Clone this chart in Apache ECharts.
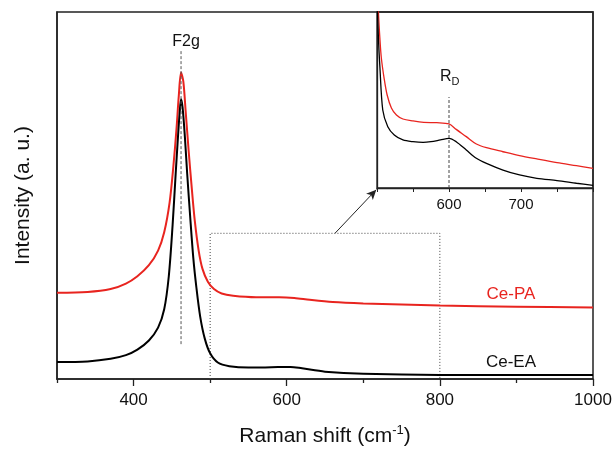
<!DOCTYPE html>
<html><head><meta charset="utf-8">
<script src="https://cdn.jsdelivr.net/npm/echarts@6/dist/echarts.min.js"></script>
<style>html,body{margin:0;padding:0;background:#fff}#c{width:616px;height:452px}</style>
</head><body><div id="c"></div>
<script>
// Main panel: Raman shift (cm-1) and intensities (arbitrary units, 0-100 axis)
const mainShift = [300,340,370,390,405,420,432,440,447,452,456,459,462,465,468,472,476,480,485,490,497,505,515,530,560,590,610,630,660,700,750,800,900,1000];
const cePAMain  = [23.5,23.7,24.5,26,28,31,35,40,48,58,68,77,83.5,81,73,62,52,43,35,30,26.5,24.5,23.3,22.7,22.3,22.3,22.1,21.6,21,20.6,20.3,20,19.7,19.5];
const shiftEA   = [300,340,370,390,405,420,432,440,446,451,455,458,460,462,464,467,470,474,478,482,487,493,500,510,525,550,580,605,620,650,700,800,1000];
const ceEAMain  = [4.6,4.8,5.5,6.5,8,10.5,14,19,28,42,56,66,72,76.2,74,66,56,44,33,25,17,11,7,4.5,3.5,3.1,3.2,3.3,2.9,2,1.4,1.1,1.1];
// Inset panel (500-800 cm-1), rescaled intensities (0-100 axis)
const insetShiftPA = [500,502,504,506,510,514,520,527,536,550,565,583,600,610,624,638,652,675,698,722,750,777,800];
const insetPA      = [125,100,85,74,62,53,45.5,41.5,39.2,38.1,37.3,37.1,36.4,33.3,29.2,25,22.9,20.6,18.4,16.5,14.4,12.7,11.2];
const insetShiftEA = [500,502,504,508,515,524,536,550,564,575,588,600,610,624,638,652,675,698,722,750,777,800];
const insetEA      = [110,85,68.9,44.3,34.8,30.1,27.3,26.3,25.9,26.3,27.3,28.2,26.3,21.6,16.9,14.0,10.2,7.4,5.5,4.2,2.7,1.5];
// Ticks
const mainMajorTicks = [400,600,800,1000];
const mainMinorTicks = [300,500,700,900];
const insetLabels = [600,700];
// Annotations
const f2gShift = 462;
const rdShift = 600;
const zoomBox = [[500,0],[500,39.7],[800,39.7],[800,0]];

const pairs = (xs, ys) => xs.map((x,i)=>[x, ys[i]]);
const RED = '#e8241f';
const AX = '#222';
const FONT = '"Liberation Sans", Arial, sans-serif';
const plain = v => String(v);

const chart = echarts.init(document.getElementById('c'), null, {renderer:'canvas'});
chart.setOption({
  animation:false,
  backgroundColor:'#fff',
  grid:[
    {left:57, top:12, width:536, height:370, show:true, borderColor:AX, borderWidth:1.5, backgroundColor:'transparent'},
    {left:377, top:12, width:216, height:176, show:true, borderColor:AX, borderWidth:1.3, backgroundColor:'transparent'}
  ],
  xAxis:[
    {type:'value', gridIndex:0, position:'bottom', min:300, max:1000, interval:100,
     axisLine:{lineStyle:{color:AX, width:1.5}},
     axisTick:{customValues:mainMajorTicks, length:7, lineStyle:{color:AX, width:1.3}},
     axisLabel:{customValues:mainMajorTicks, formatter:plain, fontSize:17, margin:13, color:'#111', fontFamily:FONT},
     splitLine:{show:false},
     name:'{a|Raman shift (cm}{b|-1}{a|)}', nameLocation:'middle', nameGap:45,
     nameTextStyle:{rich:{a:{fontSize:21, color:'#111', fontFamily:FONT}, b:{fontSize:13, color:'#111', fontFamily:FONT, verticalAlign:'top', padding:[0,0,12,0]}}}
    },
    {type:'value', gridIndex:0, position:'bottom', min:300, max:1000, interval:100,
     axisLine:{show:false},
     axisTick:{customValues:mainMinorTicks, length:4, lineStyle:{color:AX, width:1.3}},
     axisLabel:{show:false}, splitLine:{show:false}},
    {type:'value', gridIndex:1, position:'bottom', min:500, max:800, interval:50,
     axisLine:{lineStyle:{color:AX, width:1.3}},
     axisTick:{length:4, lineStyle:{color:AX, width:1}},
     axisLabel:{customValues:insetLabels, formatter:plain, fontSize:15, margin:9, color:'#111', fontFamily:FONT},
     splitLine:{show:false}}
  ],
  yAxis:[
    {type:'value', gridIndex:0, min:0, max:100,
     axisLine:{show:true, lineStyle:{color:AX, width:1.5}}, axisTick:{show:false}, axisLabel:{show:false}, splitLine:{show:false},
     name:'Intensity (a. u.)', nameLocation:'middle', nameGap:23,
     nameTextStyle:{fontSize:21, color:'#111', fontFamily:FONT}},
    {type:'value', gridIndex:1, min:0, max:100,
     axisLine:{show:true, lineStyle:{color:AX, width:1.3}}, axisTick:{show:false}, axisLabel:{show:false}, splitLine:{show:false}}
  ],
  series:[
    {type:'line', xAxisIndex:0, yAxisIndex:0, data:pairs(mainShift,cePAMain), symbol:'none', smooth:0.3,
     lineStyle:{color:RED, width:2}, z:3},
    {type:'line', xAxisIndex:0, yAxisIndex:0, data:pairs(shiftEA,ceEAMain), symbol:'none', smooth:0.3,
     lineStyle:{color:'#000', width:2}, z:4},
    {type:'line', xAxisIndex:0, yAxisIndex:0, data:[[f2gShift,9.5],[f2gShift,89.7]], symbol:'none',
     lineStyle:{color:'#555', width:1, type:[3,2]}, z:5},
    {type:'line', xAxisIndex:0, yAxisIndex:0, data:zoomBox, symbol:'none',
     lineStyle:{color:'#444', width:1, type:[1,2]}, z:2,
     markLine:{silent:true, symbol:['none','arrow'], symbolSize:[7,10], label:{show:false},
       lineStyle:{color:'#222', width:1, type:'solid'},
       data:[[{coord:[663,39.7]},{coord:[717,51.6]}]]}},
    {type:'line', xAxisIndex:2, yAxisIndex:1, data:pairs(insetShiftPA,insetPA), symbol:'none', smooth:0.3, clip:true,
     lineStyle:{color:RED, width:1.3}, z:3},
    {type:'line', xAxisIndex:2, yAxisIndex:1, data:pairs(insetShiftEA,insetEA), symbol:'none', smooth:0.3, clip:true,
     lineStyle:{color:'#000', width:1.3}, z:3},
    {type:'line', xAxisIndex:2, yAxisIndex:1, data:[[rdShift,0],[rdShift,51.7]], symbol:'none',
     lineStyle:{color:'#444', width:1, type:[3,2]}, z:4}
  ],
  graphic:[
    {type:'text', x:186, y:42, style:{text:'F2g', font:'16px ' + FONT, fill:'#111', textAlign:'center', textVerticalAlign:'middle'}},
    {type:'text', x:440, y:77, style:{text:'{r|R}{d|D}', fill:'#111', textVerticalAlign:'middle',
      rich:{r:{fontSize:16, fontFamily:FONT, fill:'#111'}, d:{fontSize:11, fontFamily:FONT, fill:'#111', padding:[10,0,0,0]}}}},
    {type:'text', x:511, y:294, style:{text:'Ce-PA', font:'17px ' + FONT, fill:RED, textAlign:'center', textVerticalAlign:'middle'}},
    {type:'text', x:511, y:362, style:{text:'Ce-EA', font:'17px ' + FONT, fill:'#111', textAlign:'center', textVerticalAlign:'middle'}}
  ]
});
</script></body></html>
